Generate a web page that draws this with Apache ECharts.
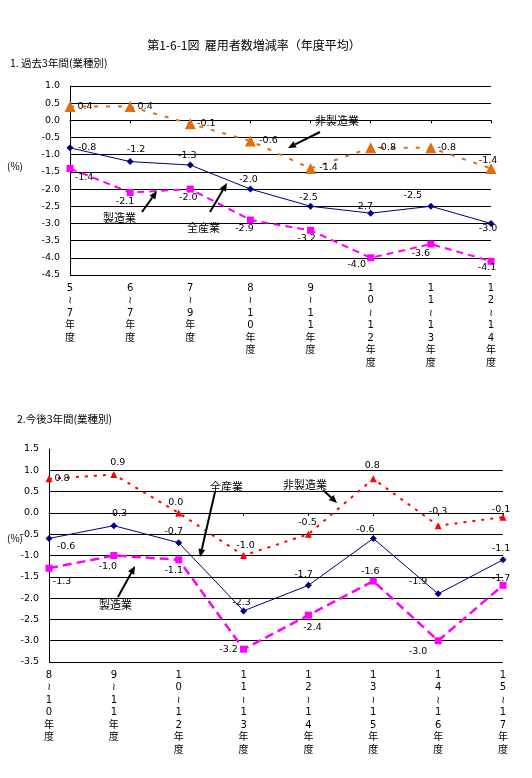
<!DOCTYPE html>
<html><head><meta charset="utf-8">
<script src="https://cdn.jsdelivr.net/npm/echarts@6/dist/echarts.min.js"></script>
<style>html,body{margin:0;padding:0;background:#fff}#c{width:532px;height:778px}</style></head>
<body><div id="c"></div><script>
const topCategories = ['5≀7年度','6≀7年度','7≀9年度','8≀10年度','9≀11年度','10≀12年度','11≀13年度','12≀14年度'];
const topNonMfg = [0.4, 0.4, -0.1, -0.6, -1.4, -0.8, -0.8, -1.4];
const topAll = [-0.8, -1.2, -1.3, -2.0, -2.5, -2.7, -2.5, -3.0];
const topMfg = [-1.4, -2.1, -2.0, -2.9, -3.2, -4.0, -3.6, -4.1];
const bottomCategories = ['8≀10年度','9≀11年度','10≀12年度','11≀13年度','12≀14年度','13≀15年度','14≀16年度','15≀17年度'];
const bottomNonMfg = [0.8, 0.9, 0.0, -1.0, -0.5, 0.8, -0.3, -0.1];
const bottomAll = [-0.6, -0.3, -0.7, -2.3, -1.7, -0.6, -1.9, -1.1];
const bottomMfg = [-1.3, -1.0, -1.1, -3.2, -2.4, -1.6, -3.0, -1.7];
const seriesNames = ['非製造業', '全産業', '製造業'];

// label offsets (style only)
const offTopNon = [[15,0],[15,0],[16,0],[18,0],[18,-1],[16,0],[16,0],[-3,-8]];
const offTopAll = [[17,0],[6,-12],[-3,-10],[-2,-10],[-2,-9],[-7,-7],[-18,-11],[-3,5]];
const offTopMfg = [[14,9],[-5,9],[-2,8],[-6,9],[-4,8],[-14,7],[-10,9],[-4,6]];
const offBotNon = [[13,0],[4,-12],[-3,-10],[2,-10],[-1,-12],[-1,-13],[0,-14],[-2,-8]];
const offBotAll = [[17,8],[4,-12],[-5,-11],[-2,-8],[-5,-11],[-8,-9],[-20,-12],[-2,-11]];
const offBotMfg = [[13,13],[-6,11],[-5,11],[-15,0],[4,12],[-3,-10],[-20,11],[-2,-7]];

const FF = '"DejaVu Sans", "Noto Sans CJK JP", sans-serif';
const FJ = '"Noto Sans CJK JP", "DejaVu Sans", sans-serif';
const vert = s => Array.from(s).join('\n');

function mk(name, vals, axis, color, lineType, width, symbol, size, offs) {
  return {
    name: name, type: 'line', xAxisIndex: axis, yAxisIndex: axis,
    symbol: symbol, symbolSize: size,
    lineStyle: { color: color, width: width, type: lineType },
    itemStyle: { color: color },
    data: vals.map((v, i) => ({
      value: v,
      label: { offset: offs[i] }
    })),
    label: {
      show: true, position: 'inside', align: 'center', verticalAlign: 'middle',
      color: '#000', fontSize: 9.5, fontFamily: FF,
      formatter: p => Number(p.value).toFixed(1)
    },
    animation: false, z: 3
  };
}

function arrow(x1, y1, x2, y2) {
  const a = Math.atan2(y2 - y1, x2 - x1), L = 8, W = 3.5;
  const bx = x2 - L * Math.cos(a), by = y2 - L * Math.sin(a);
  const px = -Math.sin(a) * W, py = Math.cos(a) * W;
  return [
    { type: 'line', shape: { x1: x1, y1: y1, x2: bx, y2: by }, style: { stroke: '#000', lineWidth: 2 }, z: 10 },
    { type: 'polygon', shape: { points: [[x2, y2], [bx + px, by + py], [bx - px, by - py]] }, style: { fill: '#000' }, z: 10 }
  ];
}
function txt(x, y, s, size, align) {
  return { type: 'text', x: x, y: y, style: { text: s, font: size + 'px ' + FJ, fill: '#000', textAlign: align || 'left', textVerticalAlign: 'middle' }, z: 10 };
}

const xAxisBase = (cats, idx, margin) => ({
  type: 'category', gridIndex: idx, data: cats, boundaryGap: false,
  axisLine: { lineStyle: { color: '#000', width: 1 } },
  axisTick: { show: true, length: 3, alignWithLabel: true, lineStyle: { color: '#000' } },
  axisLabel: { formatter: v => vert(v), color: '#000', fontSize: 10, fontFamily: FF, lineHeight: 12.5, margin: margin, interval: 0 },
  splitLine: { show: false }
});
const yAxisBase = (idx, min, max, showMax) => ({
  type: 'value', gridIndex: idx, min: min, max: max, interval: 0.5,
  axisLine: { show: true, lineStyle: { color: '#000', width: 1 } },
  axisTick: { show: false },
  axisLabel: { formatter: v => v.toFixed(1), color: '#000', fontSize: 9.5, fontFamily: FF, margin: 10 },
  splitLine: { show: true, showMaxLine: showMax, lineStyle: { color: '#000', width: 1 } }
});

const graphics = [
  txt(254, 45, '第1-6-1図  雇用者数増減率（年度平均）', 12, 'center'),
  txt(10, 63, '1. 過去3年間(業種別)', 10.5),
  txt(7, 166, '(%)', 10),
  txt(17, 419, '2.今後3年間(業種別)', 10.5),
  txt(7, 538, '(%)', 10),
  txt(315, 121, seriesNames[0], 11),
  txt(103, 218, seriesNames[2], 11),
  txt(187, 228, seriesNames[1], 11),
  txt(210, 487, seriesNames[1], 11),
  txt(99, 605, seriesNames[2], 11),
  txt(283, 485, seriesNames[0], 11)
].concat(
  arrow(320, 132, 288, 148),
  arrow(142, 212, 157, 191),
  arrow(210, 212, 227, 183),
  arrow(215, 492, 200, 557),
  arrow(118, 597, 135, 566),
  arrow(323, 490, 337, 503)
);

const chart = echarts.init(document.getElementById('c'), null, { renderer: 'canvas' });
chart.setOption({
  backgroundColor: '#fff',
  animation: false,
  textStyle: { fontFamily: FF },
  grid: [
    { left: 70, top: 86, width: 421, height: 189, containLabel: false },
    { left: 49, top: 449, width: 454, height: 213, containLabel: false }
  ],
  xAxis: [xAxisBase(topCategories, 0, 7), xAxisBase(bottomCategories, 1, 7)],
  yAxis: [yAxisBase(0, -4.5, 1.0, true), yAxisBase(1, -3.5, 1.5, false)],
  series: [
    mk(seriesNames[0], topNonMfg, 0, '#E46C0A', [4, 8], 2, 'triangle', 11, offTopNon),
    mk(seriesNames[1], topAll, 0, '#000080', 'solid', 1, 'diamond', 7, offTopAll),
    mk(seriesNames[2], topMfg, 0, '#FF00FF', [7, 5], 2, 'rect', 7, offTopMfg),
    mk(seriesNames[0], bottomNonMfg, 1, '#FF0000', [3, 6], 2, 'triangle', 7, offBotNon),
    mk(seriesNames[1], bottomAll, 1, '#000080', 'solid', 1, 'diamond', 7, offBotAll),
    mk(seriesNames[2], bottomMfg, 1, '#FF00FF', [9, 5], 2.5, 'rect', 7, offBotMfg)
  ],
  graphic: graphics
});
</script></body></html>
